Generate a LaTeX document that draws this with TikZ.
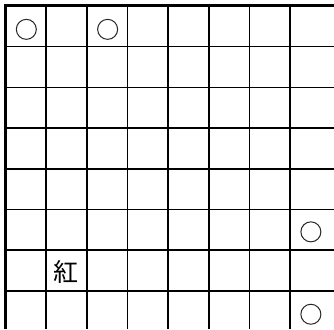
\documentclass[tikz,border=0pt]{standalone}
\usepackage{fontspec}
\newfontfamily\cjk{Noto Sans CJK JP}
\begin{document}
\begin{tikzpicture}[x=1pt,y=-1pt,
  gridline/.style={line width=1.5pt,black},
  frameline/.style={line width=3pt,black},
  piece/.style={draw=black!85,line width=1pt,circle,minimum size=20pt,inner sep=0pt},
  kanji/.style={inner sep=0pt,font=\cjk\fontsize{25pt}{25pt}\selectfont}]
\useasboundingbox (0,0) rectangle (334,329);
\fill[white] (0,0) rectangle (334,329);
% inner grid lines
\foreach \i in {1,...,7} {
  \draw[gridline] ({5.5+40.65*\i},6) -- ({5.5+40.65*\i},329);
  \draw[gridline] (5.5,{6+40.7*\i}) -- (334,{6+40.7*\i});
}
% thick frame (left and top)
\draw[frameline] (5.5,329) -- (5.5,6) -- (334,6);
% pieces
\node[piece] (c1) at ({5.5+40.65*0.5+0.5},{6+40.7*0.5+3}) {};
\node[piece] (c2) at ({5.5+40.65*2.5+0.5},{6+40.7*0.5+3}) {};
\node[piece] (c3) at ({5.5+40.65*7.5+0.5},{6+40.7*5.5+2}) {};
\node[piece] (c4) at ({5.5+40.65*7.5+0.5},{6+40.7*7.5+3}) {};
\node[kanji] (k1) at ({5.5+40.65*1.5},{6+40.7*6.5+1}) {紅};
\end{tikzpicture}
\end{document}
